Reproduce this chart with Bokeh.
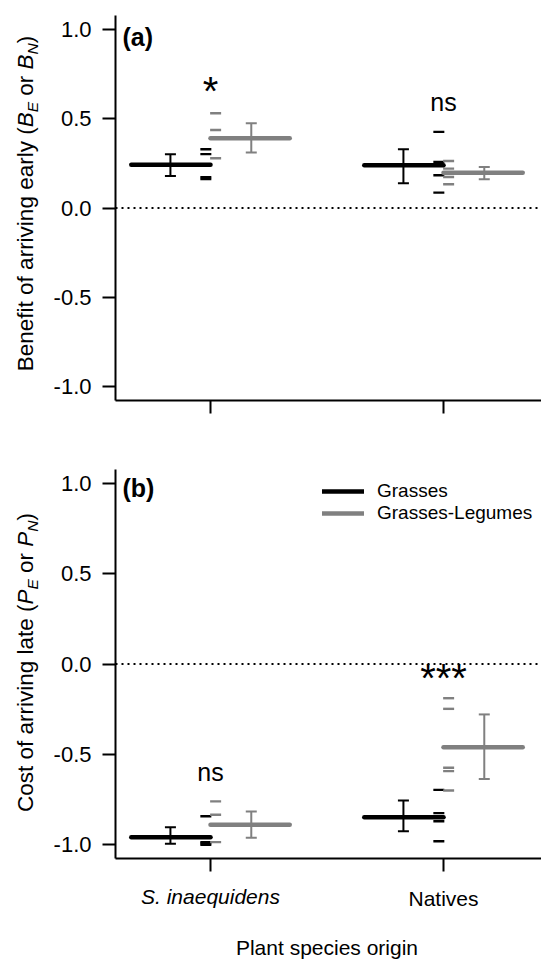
import math
from bokeh.plotting import figure
from bokeh.models import (ColumnDataSource, Whisker, TeeHead, Span, Label, Legend,
                          LegendItem, FixedTicker, PrintfTickFormatter, Range1d)
from bokeh.layouts import column, row
from bokeh.embed import file_html
from bokeh.resources import INLINE

# ---------------- data ----------------
origins = ["S. inaequidens", "Natives"]
origin_pos = [1, 2]
communities = ["Grasses", "Grasses-Legumes"]
x_title = "Plant species origin"

# (a) benefit of arriving early
a_grass_mean = [0.242, 0.240]
a_grass_upper = [0.302, 0.330]
a_grass_lower = [0.180, 0.139]
a_legume_mean = [0.392, 0.198]
a_legume_upper = [0.476, 0.230]
a_legume_lower = [0.311, 0.161]
a_grass_reps = [[0.330, 0.302, 0.242, 0.173, 0.163],
                [0.427, 0.258, 0.240, 0.184, 0.086]]
a_legume_reps = [[0.532, 0.438, 0.392, 0.279],
                 [0.264, 0.221, 0.198, 0.174, 0.133]]
a_signif = ["*", "ns"]

# (b) cost of arriving late
b_grass_mean = [-0.962, -0.851]
b_grass_upper = [-0.906, -0.758]
b_grass_lower = [-0.998, -0.928]
b_legume_mean = [-0.893, -0.462]
b_legume_upper = [-0.819, -0.280]
b_legume_lower = [-0.965, -0.638]
b_grass_reps = [[-0.845, -0.962, -0.989, -0.996, -1.004],
                [-0.699, -0.828, -0.851, -0.873, -0.984]]
b_legume_reps = [[-0.763, -0.837, -0.893, -0.989],
                 [-0.190, -0.249, -0.576, -0.595, -0.702]]
b_signif = ["ns", "***"]

y_ticks = [-1.0, -0.5, 0.0, 0.5, 1.0]

# ---------------- styling / layout ----------------
FONT = "Liberation Sans"
BLACK = "#000000"
GREY = "#808080"
TOTAL_W = 541
LAB_W = 45                     # width of the strip holding the y-axis titles
FIG_W = TOTAL_W - LAB_W
LEFT = 115 - LAB_W             # border left of the frame inside each panel
FRAME_W = FIG_W - LEFT
PX_PER_X = 233.0
X0 = 1 - 95 / PX_PER_X
X1 = X0 + FRAME_W / PX_PER_X
BASE_FIX = 0.3                 # em offset of Bokeh's alphabetic baseline

ARIAL_W = {" ": 278, "(": 333, ")": 333, "B": 667, "C": 722, "E": 667, "N": 722,
           "P": 667, "a": 556, "e": 556, "f": 278, "g": 556, "i": 222, "l": 222,
           "n": 556, "o": 556, "r": 333, "s": 500, "t": 278, "v": 500, "y": 500}


def tw(s, size):
    return sum(ARIAL_W.get(c, 556) for c in s) * size / 1000.0


def text_fig(w, h, top=0, bottom=0, x_range=None, left=0):
    f = figure(width=w, height=h, x_range=x_range or Range1d(0, w - left),
               y_range=Range1d(0, h - top - bottom),
               x_axis_type=None, y_axis_type=None, output_backend="svg",
               toolbar_location=None, min_border=0, min_border_left=left,
               min_border_right=0, min_border_top=top, min_border_bottom=bottom)
    f.grid.visible = False
    f.outline_line_color = None
    return f


def ylabel_fig(h, top, bottom, parts, center_y, base_x):
    """parts: (text, size, style, subscript shift); leading/trailing spaces
    are advanced manually, since rendered text drops them."""
    f = text_fig(LAB_W, h, top, bottom)
    total = sum(tw(t, sz) for t, sz, st, sh in parts)
    y = center_y - total / 2.0
    for t, sz, st, sh in parts:
        core = t.strip(" ")
        lead = len(t) - len(t.lstrip(" "))
        y_core = y + tw(" " * lead, sz)
        if core:
            f.add_layout(Label(x=base_x + sh - BASE_FIX * sz, y=y_core, x_units="screen",
                               y_units="screen", text=core, angle=math.pi / 2,
                               text_align="left", text_baseline="alphabetic",
                               text_font=FONT, text_font_size=f"{sz}px",
                               text_font_style=st, text_color=BLACK))
        y += tw(t, sz)
    return f


def make_panel(height, top, bottom, gm, gu, gl, lm, lu, ll, g_reps, l_reps,
               signif, sig_y, tag, tag_y):
    p = figure(width=FIG_W, height=height, x_range=Range1d(X0, X1),
               y_range=Range1d(-1.08, 1.08), output_backend="svg",
               toolbar_location=None, min_border_left=LEFT, min_border_right=0,
               min_border_top=top, min_border_bottom=bottom)
    p.grid.visible = False
    p.outline_line_color = None

    for ax in (p.xaxis[0], p.yaxis[0]):
        ax.axis_line_width = 2
        ax.axis_line_color = BLACK
        ax.major_tick_line_width = 2
        ax.major_tick_line_color = BLACK
        ax.major_tick_out = 13
        ax.major_tick_in = 0
        ax.minor_tick_line_color = None
        ax.major_label_text_font = FONT
        ax.major_label_text_font_size = "22px"
        ax.major_label_text_color = BLACK
    p.yaxis.ticker = FixedTicker(ticks=y_ticks)
    p.yaxis.formatter = PrintfTickFormatter(format="%.1f")
    p.yaxis.major_label_standoff = 11
    p.xaxis.ticker = FixedTicker(ticks=origin_pos)
    p.xaxis.major_label_text_color = None
    p.xaxis.major_label_text_font_size = "2px"
    p.xaxis.major_label_standoff = 0

    p.add_layout(Span(location=0, dimension="width", line_color=BLACK,
                      line_width=1.8, line_dash="2 4"))

    # individual replicate dashes
    for i, pos in enumerate(origin_pos):
        p.scatter([pos - 0.02] * len(g_reps[i]), g_reps[i], marker="dash", size=11,
                  line_color=BLACK, line_width=2.4)
        p.scatter([pos + 0.022] * len(l_reps[i]), l_reps[i], marker="dash", size=11,
                  line_color=GREY, line_width=2.4)

    gsrc = ColumnDataSource(dict(x0=[x - 0.34 for x in origin_pos], x1=origin_pos,
                                 xm=[x - 0.172 for x in origin_pos], y=gm, up=gu, lo=gl))
    lsrc = ColumnDataSource(dict(x0=origin_pos, x1=[x + 0.34 for x in origin_pos],
                                 xm=[x + 0.175 for x in origin_pos], y=lm, up=lu, lo=ll))
    rg = p.segment("x0", "y", "x1", "y", source=gsrc, line_color=BLACK,
                   line_width=4.5, line_cap="round")
    rl = p.segment("x0", "y", "x1", "y", source=lsrc, line_color=GREY,
                   line_width=4.5, line_cap="round")
    for src, col in ((gsrc, BLACK), (lsrc, GREY)):
        p.add_layout(Whisker(source=src, base="xm", upper="up", lower="lo",
                             dimension="height", line_color=col, line_width=2,
                             upper_head=TeeHead(size=11, line_color=col, line_width=2),
                             lower_head=TeeHead(size=11, line_color=col, line_width=2)))

    for pos, s, yy in zip(origin_pos, signif, sig_y):
        fs = "25px" if s == "ns" else "40px"
        p.add_layout(Label(x=pos, y=yy, text=s, text_align="center",
                           text_baseline="alphabetic", text_font=FONT,
                           text_font_size=fs, text_color=BLACK))

    p.add_layout(Label(x=7, y=tag_y, x_units="screen", text=tag, text_align="left",
                       text_baseline="alphabetic", text_font=FONT,
                       text_font_size="25px", text_font_style="bold", text_color=BLACK))
    return p, rg, rl


SUB = 5
YS, SS = 22.5, 15.5
parts_a = [("Benefit of arriving early (", YS, "normal", 0), ("B", YS, "italic", 0),
           ("E", SS, "italic", SUB), (" or ", YS, "normal", 0), ("B", YS, "italic", 0),
           ("N", SS, "italic", SUB), (")", YS, "normal", 0)]
parts_b = [("Cost of arriving late (", YS, "normal", 0), ("P", YS, "italic", 0),
           ("E", SS, "italic", SUB), (" or ", YS, "normal", 0), ("P", YS, "italic", 0),
           ("N", SS, "italic", SUB), (")", YS, "normal", 0)]

H1, H2, H3 = 441, 437, 81
T1, B1 = 15, 41
T2, B2 = 28, 20

p1, _, _ = make_panel(H1, T1, B1, a_grass_mean, a_grass_upper, a_grass_lower,
                      a_legume_mean, a_legume_upper, a_legume_lower,
                      a_grass_reps, a_legume_reps, a_signif, [0.654, 0.597],
                      "(a)", 0.96)

p2, rg2, rl2 = make_panel(H2, T2, B2, b_grass_mean, b_grass_upper, b_grass_lower,
                          b_legume_mean, b_legume_upper, b_legume_lower,
                          b_grass_reps, b_legume_reps, b_signif, [-0.597, -0.077],
                          "(b)", 0.977)

legend = Legend(items=[LegendItem(label=communities[0], renderers=[rg2]),
                       LegendItem(label=communities[1], renderers=[rl2])],
                location=(207, 334), border_line_color=None, background_fill_alpha=0,
                padding=0, margin=0, spacing=0, glyph_width=42, glyph_height=22,
                label_height=22, label_standoff=13, label_text_font=FONT,
                label_text_font_size="19px", label_text_baseline="middle",
                label_text_color=BLACK)
p2.add_layout(legend)

# y titles: frame of each strip matches the panel frame beside it
la = ylabel_fig(H1, T1, B1, parts_a, (H1 - B1) - 203, 32)
lb = ylabel_fig(H2, T2, B2, parts_b, (H1 + H2 - B2) - 662, 32)

# category labels and x title under panel (b), on the same x scale
xf = text_fig(TOTAL_W, H3, x_range=p2.x_range, left=115)
xf.add_layout(Label(x=origin_pos[0], y=(959 - 902) + BASE_FIX * 21, text=origins[0],
                    text_align="center", text_baseline="alphabetic", text_font=FONT,
                    text_font_size="21px", text_font_style="italic", text_color=BLACK))
xf.add_layout(Label(x=origin_pos[1], y=(959 - 904) + BASE_FIX * 21, text=origins[1],
                    text_align="center", text_baseline="alphabetic", text_font=FONT,
                    text_font_size="21px", text_color=BLACK))
xf.add_layout(Label(x=1.5, y=(959 - 953) + BASE_FIX * 21, text=x_title,
                    text_align="center", text_baseline="alphabetic", text_font=FONT,
                    text_font_size="21px", text_color=BLACK))

layout = column(row(la, p1, spacing=0), row(lb, p2, spacing=0), xf, spacing=0)
open("out.html", "w").write(file_html(layout, INLINE))
